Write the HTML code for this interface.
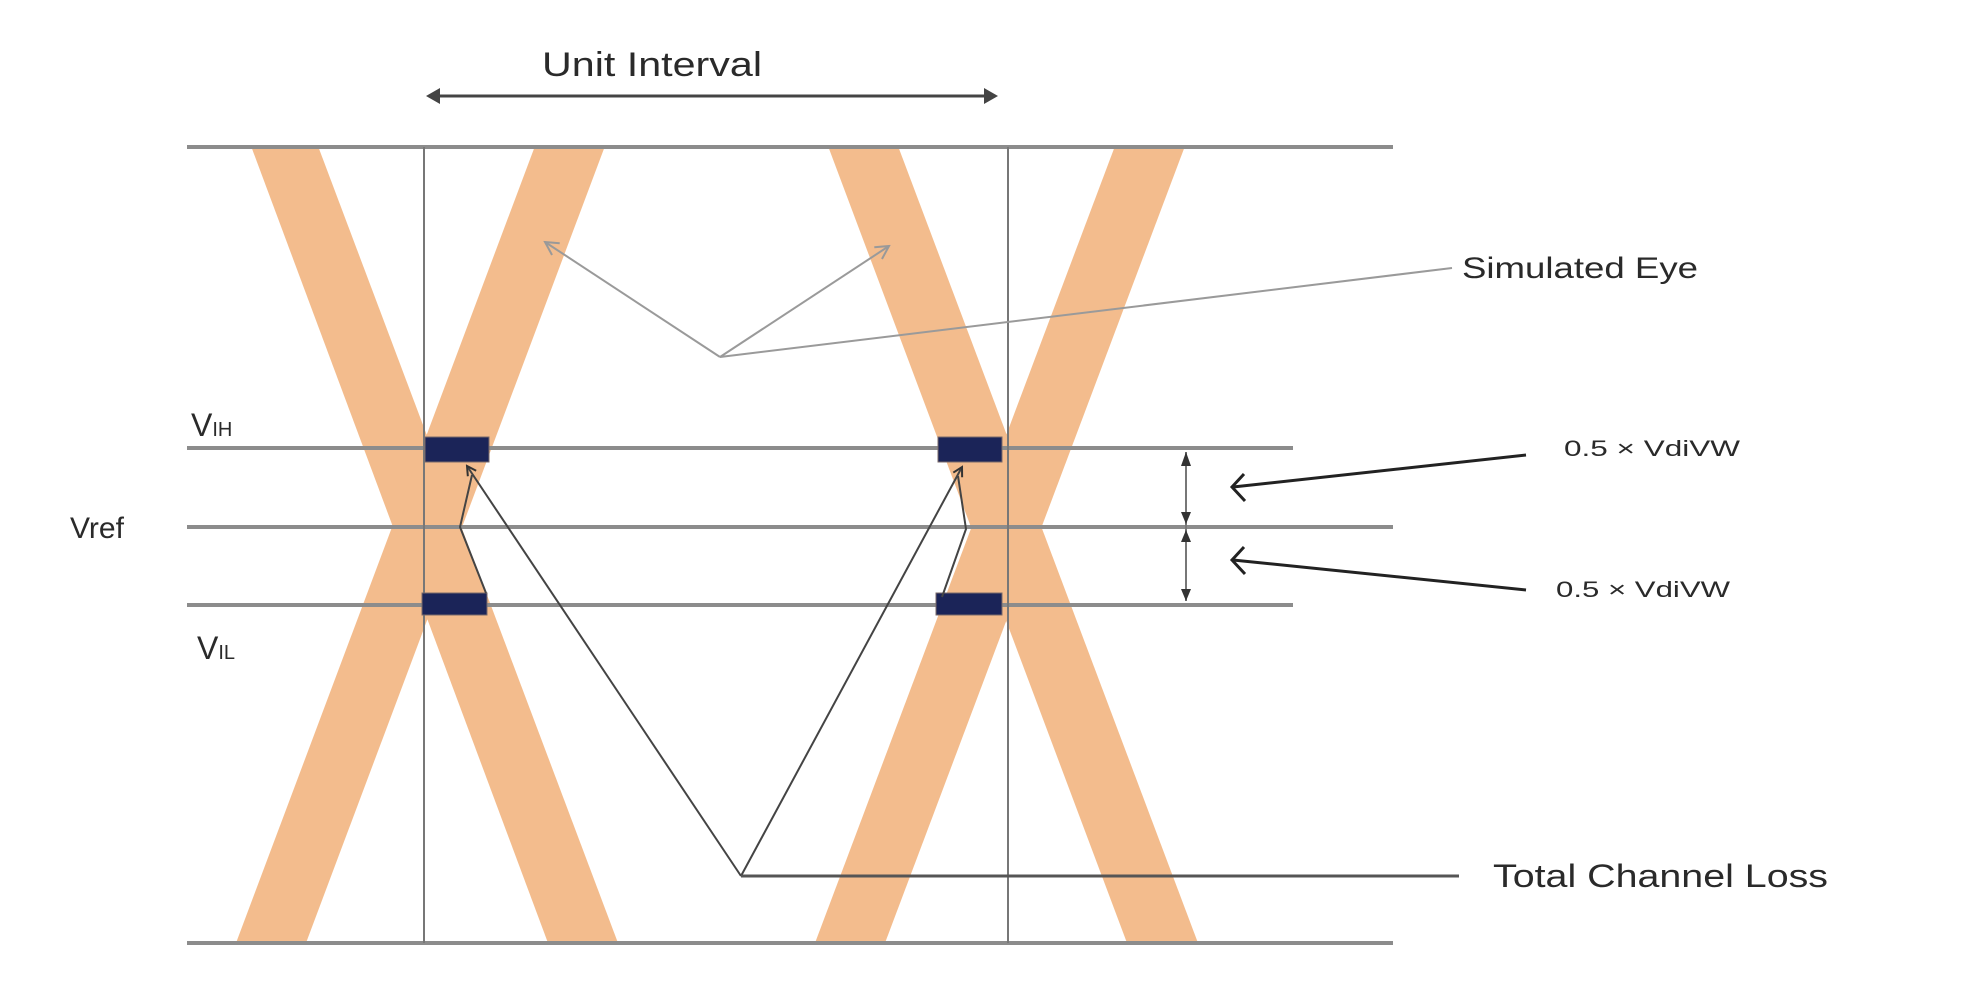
<!DOCTYPE html>
<html><head><meta charset="utf-8"><style>
html,body{margin:0;padding:0;background:#fff;}
svg{display:block;}
text{font-family:"Liberation Sans",sans-serif;fill:#2a2a2a;}
</style></head><body>
<svg width="1988" height="1005" viewBox="0 0 1988 1005" xmlns="http://www.w3.org/2000/svg">
<defs>
<marker id="oa" markerWidth="12" markerHeight="12" refX="10" refY="6" orient="auto" markerUnits="userSpaceOnUse">
<path d="M1,1 L10,6 L1,11" fill="none" stroke="#333" stroke-width="2"/></marker>
<marker id="ga" markerWidth="16" markerHeight="16" refX="14" refY="8" orient="auto" markerUnits="userSpaceOnUse">
<path d="M1,1 L14,8 L1,15" fill="none" stroke="#999" stroke-width="2"/></marker>
</defs>
<!-- orange bands -->
<g fill="#F3B987" opacity="0.95">
<polygon points="251,146 318,146 618,943 548,943"/>
<polygon points="535,146 605,146 306,943 236,943"/>
<polygon points="828,146 898,146 1198,943 1127,943"/>
<polygon points="1115,146 1185,146 885,943 815,943"/>
</g>
<!-- horizontal lines -->
<g stroke="#8c8c8c" stroke-width="4">
<line x1="187" y1="147" x2="1393" y2="147"/>
<line x1="187" y1="943" x2="1393" y2="943"/>
<line x1="187" y1="448" x2="1293" y2="448"/>
<line x1="187" y1="527" x2="1393" y2="527"/>
<line x1="187" y1="605" x2="1293" y2="605"/>
</g>
<g stroke="#777" stroke-width="2">
<line x1="424" y1="147" x2="424" y2="943"/>
<line x1="1008" y1="147" x2="1008" y2="943"/>
</g>
<!-- blue boxes -->
<g fill="#1b2458" stroke="#7a6a6a" stroke-width="1">
<rect x="425" y="437" width="64" height="25"/>
<rect x="938" y="437" width="64" height="25"/>
<rect x="422" y="593" width="65" height="22"/>
<rect x="936" y="593" width="66" height="22"/>
</g>
<!-- unit interval -->
<line x1="430" y1="96" x2="994" y2="96" stroke="#444" stroke-width="3"/>
<path d="M440,88 L426,96 L440,104 Z M984,88 L998,96 L984,104 Z" fill="#444"/>
<text x="652" y="76" font-size="34" text-anchor="middle" textLength="220" lengthAdjust="spacingAndGlyphs">Unit Interval</text>
<!-- simulated eye -->
<g stroke="#9a9a9a" stroke-width="2" fill="none">
<line x1="720" y1="357" x2="545" y2="242" marker-end="url(#ga)"/>
<line x1="720" y1="357" x2="889" y2="246" marker-end="url(#ga)"/>
<line x1="720" y1="357" x2="1452" y2="268"/>
</g>
<text x="1462" y="278" font-size="30" textLength="236" lengthAdjust="spacingAndGlyphs">Simulated Eye</text>
<!-- total channel loss -->
<g stroke="#444" stroke-width="2" fill="none">
<line x1="741" y1="876" x2="467" y2="466" marker-end="url(#oa)"/>
<line x1="741" y1="876" x2="962" y2="467" marker-end="url(#oa)"/>
<polyline points="472,475 460,527 486,593"/>
<polyline points="958,476 966,529 942,597"/>
</g>
<line x1="741" y1="876" x2="1459" y2="876" stroke="#555" stroke-width="3"/>
<text x="1493" y="887" font-size="32" textLength="335" lengthAdjust="spacingAndGlyphs">Total Channel Loss</text>
<!-- dimension -->
<line x1="1186" y1="452" x2="1186" y2="601" stroke="#777" stroke-width="2"/>
<g fill="#333">
<path d="M1181,466 L1186,452 L1191,466 Z"/>
<path d="M1181,512 L1186,524 L1191,512 Z"/>
<path d="M1181,542 L1186,530 L1191,542 Z"/>
<path d="M1181,589 L1186,601 L1191,589 Z"/>
</g>
<g stroke="#222" stroke-width="3" fill="none">
<line x1="1526" y1="455" x2="1233" y2="487"/>
<line x1="1526" y1="590" x2="1233" y2="560"/>
<path d="M1244,474 L1232,487 L1245,501 M1244,547 L1232,560 L1245,574"/>
</g>
<text x="1564" y="456" font-size="22" textLength="176" lengthAdjust="spacingAndGlyphs">0.5 × VdiVW</text>
<text x="1556" y="597" font-size="22" textLength="174" lengthAdjust="spacingAndGlyphs">0.5 × VdiVW</text>
<!-- V labels -->
<text x="191" y="436" font-size="32">V<tspan font-size="20">IH</tspan></text>
<text x="70" y="538" font-size="30">Vref</text>
<text x="197" y="659" font-size="32">V<tspan font-size="20">IL</tspan></text>
</svg>
</body></html>
